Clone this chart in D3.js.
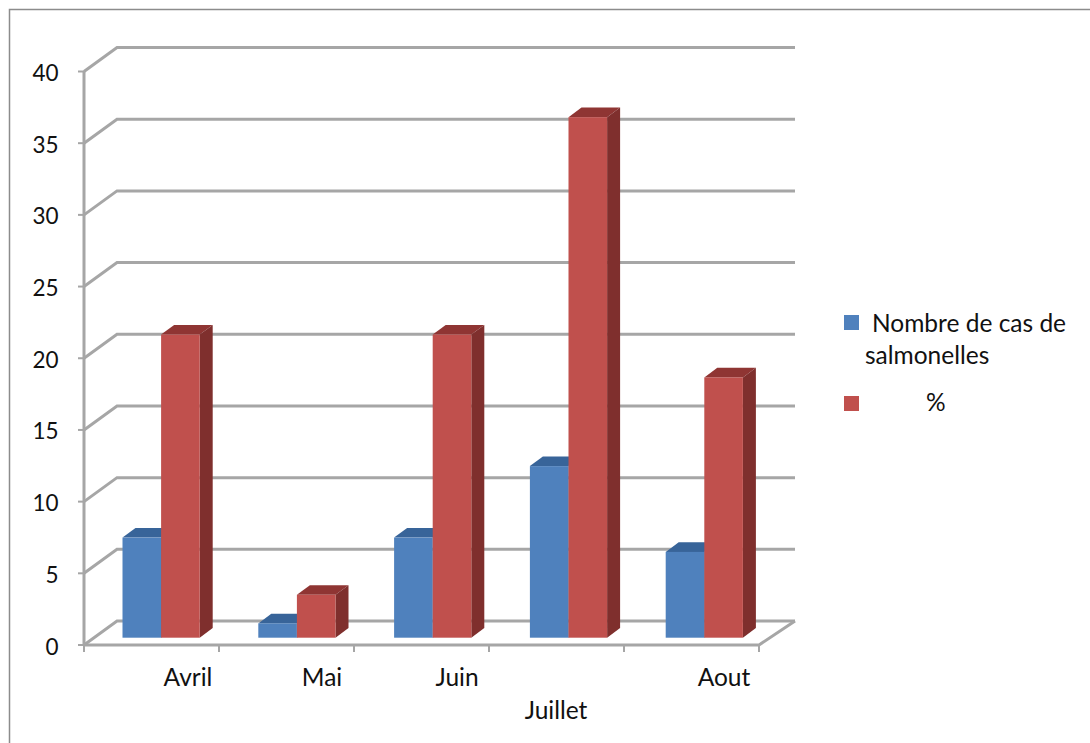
<!DOCTYPE html>
<html>
<head>
<meta charset="utf-8">
<script src="https://cdn.jsdelivr.net/npm/d3@7/dist/d3.min.js"></script>
<style>
html,body{margin:0;padding:0;background:#fff}
svg{display:block}
text{font-family:Lato,"Open Sans",sans-serif;fill:#111;font-size:24.5px}
text.tick{font-size:22.5px}
</style>
</head>
<body>
<svg id="chart" width="1090" height="743"></svg>
<script>
const months = ["Avril", "Mai", "Juin", "Juillet", "Aout"];
const cases = [7, 1, 7, 12, 6];
const percent = [21.2, 3, 21.2, 36.4, 18.2];
const yTicks = [0, 5, 10, 15, 20, 25, 30, 35, 40];
const legendColors = ["#4f81bd", "#c0504d"];

const svg = d3.select("#chart");
const gridColor = "#a6a6a6";

// Frame around the chart area
svg.append("path")
  .attr("d", "M9.5,743V9.5H1090")
  .attr("fill", "none").attr("stroke", "#8c8c8c").attr("stroke-width", 1.5);

// Axis scales on the front plane
const x = d3.scaleBand().domain(months).range([84, 759]);
const y = d3.scaleLinear().domain([0, 40]).range([645, 71.5]);

// Bars stand a little behind the front plane, so they use their own scales
const xBar = d3.scaleBand().domain(months).range([122.5, 122.5 + 5 * 135.8]);
const yBar = d3.scaleLinear().domain([0, 40]).range([637.7, 65.7]);

// Oblique projection offsets for the 3D look
const wall = {dx: 33, dy: -24};
const bar = {width: 38.6, dx: 13, dy: -9.6};

const grid = svg.append("g").attr("fill", "none").attr("stroke", gridColor).attr("stroke-width", 3);
yTicks.forEach(t => {
  const p = d3.path();
  p.moveTo(x.range()[0], y(t));
  p.lineTo(x.range()[0] + wall.dx, y(t) + wall.dy);
  p.lineTo(x.range()[1] + wall.dx + 3, y(t) + wall.dy);
  grid.append("path").attr("d", p.toString());
  svg.append("line")
    .attr("x1", x.range()[0] - 6).attr("x2", x.range()[0])
    .attr("y1", y(t)).attr("y2", y(t))
    .attr("stroke", gridColor).attr("stroke-width", 2);
  svg.append("text").attr("class", "tick").attr("x", 58.5).attr("y", y(t) + 9.5)
    .attr("text-anchor", "end").text(t);
});

// Right edge of the floor, front edge, value axis and category ticks
const base = svg.append("g").attr("fill", "none").attr("stroke", gridColor).attr("stroke-width", 3);
base.append("path").attr("d", `M${x.range()[0]},${y(0)}H${x.range()[1]}L${x.range()[1] + wall.dx + 3},${y(0) + wall.dy}`);
base.append("line").attr("x1", x.range()[0]).attr("x2", x.range()[0]).attr("y1", y(40)).attr("y2", y(0));
const catEdges = months.map(m => x(m)).concat(x.range()[1]);
catEdges.forEach(e => {
  svg.append("line").attr("x1", e).attr("x2", e).attr("y1", y(0)).attr("y2", y(0) + 7)
    .attr("stroke", gridColor).attr("stroke-width", 2);
});

function drawBar(x0, value, front, top, side) {
  const x1 = x0 + bar.width;
  const yb = yBar(0);
  const yt = yBar(value);
  const g = svg.append("g");
  g.append("polygon").attr("fill", top)
    .attr("points", [[x0, yt], [x0 + bar.dx, yt + bar.dy], [x1 + bar.dx, yt + bar.dy], [x1, yt]].join(" "));
  g.append("polygon").attr("fill", side)
    .attr("points", [[x1, yt], [x1 + bar.dx, yt + bar.dy], [x1 + bar.dx, yb + bar.dy], [x1, yb]].join(" "));
  g.append("rect").attr("fill", front)
    .attr("x", x0).attr("y", yt).attr("width", bar.width).attr("height", yb - yt);
}

months.forEach((m, i) => {
  const x0 = xBar(m);
  drawBar(x0, cases[i], legendColors[0], "#386499", "#376092");
  drawBar(x0 + bar.width, percent[i], legendColors[1], "#8f3533", "#7f2f2d");
});

// Category labels; "Juillet" sits on a second row
const labelX = {Avril: 188, Mai: 322, Juin: 457, Juillet: 556, Aout: 724};
months.forEach(m => {
  svg.append("text").attr("x", labelX[m]).attr("y", m === "Juillet" ? 719 : 686)
    .attr("text-anchor", "middle").text(m);
});

// Legend
const legend = svg.append("g");
legend.append("rect").attr("x", 844).attr("y", 315).attr("width", 15).attr("height", 15).attr("fill", legendColors[0]);
legend.append("rect").attr("x", 844).attr("y", 396).attr("width", 15).attr("height", 15).attr("fill", legendColors[1]);
legend.append("text").attr("x", 872).attr("y", 332).text("Nombre de cas de");
legend.append("text").attr("x", 865).attr("y", 364).text("salmonelles");
legend.append("text").attr("x", 926).attr("y", 411).text("%");
</script>
</body>
</html>
